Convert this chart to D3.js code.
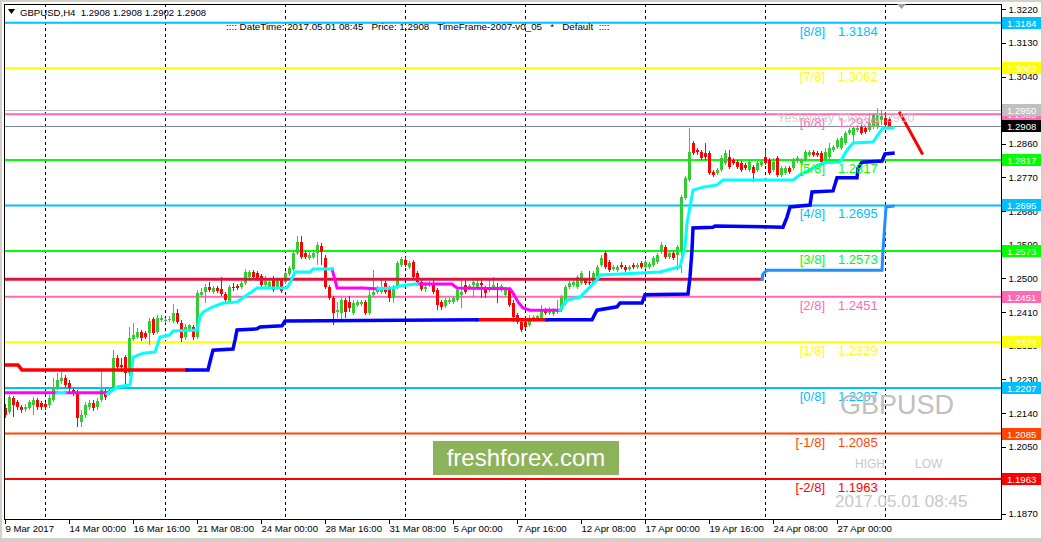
<!DOCTYPE html>
<html><head><meta charset="utf-8">
<script src="https://cdn.jsdelivr.net/npm/d3@7"></script>
<style>
body{margin:0;background:#fff;}
svg{display:block;}
text{font-family:"Liberation Sans",Arial,sans-serif;}
</style>
</head><body>
<svg id="c" width="1043" height="542"></svg>
<script>
const symbol = "GBPUSD";
const timeframe = "H4";
const xTickIndex = [0,16,32,48,64,80,96,112,128,144,160,176,192,208];
const xTickLabels = ["9 Mar 2017","14 Mar 00:00","16 Mar 16:00","21 Mar 08:00","24 Mar 00:00","28 Mar 16:00","31 Mar 08:00","5 Apr 00:00","7 Apr 16:00","12 Apr 08:00","17 Apr 00:00","19 Apr 16:00","24 Apr 08:00","27 Apr 00:00"];
const weekStartIndex = [10,40,70,100,130,160,190,220];
const priceTicks = [1.3220,1.3130,1.3040,1.2950,1.2860,1.2770,1.2680,1.2590,1.2500,1.2410,1.2320,1.2230,1.2140,1.2050,1.1960,1.1870];

// OHLC, one entry per H4 bar
const ohlc = [
[1.2153,1.2164,1.2127,1.2135],[1.2143,1.2188,1.2137,1.2183],[1.2180,1.2185,1.2129,1.2161],[1.2169,1.2175,1.2148,1.2156],
[1.2156,1.2161,1.2140,1.2148],[1.2151,1.2164,1.2143,1.2156],[1.2153,1.2175,1.2148,1.2169],[1.2161,1.2183,1.2135,1.2175],
[1.2175,1.2180,1.2148,1.2156],[1.2167,1.2172,1.2148,1.2156],[1.2164,1.2169,1.2148,1.2156],[1.2161,1.2188,1.2153,1.2180],
[1.2175,1.2233,1.2169,1.2210],[1.2210,1.2247,1.2201,1.2228],[1.2226,1.2250,1.2218,1.2233],[1.2233,1.2242,1.2207,1.2215],
[1.2220,1.2228,1.2196,1.2207],[1.2201,1.2207,1.2185,1.2194],[1.2194,1.2201,1.2103,1.2127],[1.2116,1.2148,1.2103,1.2135],
[1.2135,1.2169,1.2127,1.2161],[1.2156,1.2175,1.2148,1.2167],[1.2167,1.2175,1.2145,1.2153],[1.2156,1.2180,1.2148,1.2172],
[1.2175,1.2250,1.2169,1.2201],[1.2199,1.2204,1.2175,1.2183],[1.2194,1.2207,1.2188,1.2201],[1.2210,1.2308,1.2201,1.2287],
[1.2287,1.2295,1.2255,1.2263],[1.2268,1.2287,1.2250,1.2263],[1.2289,1.2295,1.2215,1.2247],[1.2247,1.2370,1.2239,1.2341],
[1.2338,1.2381,1.2333,1.2349],[1.2343,1.2367,1.2338,1.2357],[1.2357,1.2362,1.2333,1.2341],[1.2354,1.2359,1.2338,1.2343],
[1.2354,1.2394,1.2322,1.2386],[1.2392,1.2397,1.2349,1.2354],[1.2357,1.2402,1.2351,1.2394],[1.2389,1.2402,1.2383,1.2394],
[1.2386,1.2394,1.2381,1.2389],[1.2389,1.2400,1.2383,1.2392],[1.2386,1.2432,1.2381,1.2407],[1.2407,1.2418,1.2378,1.2383],
[1.2381,1.2389,1.2330,1.2341],[1.2343,1.2378,1.2335,1.2370],[1.2362,1.2378,1.2357,1.2375],[1.2370,1.2375,1.2335,1.2343],
[1.2343,1.2469,1.2338,1.2461],[1.2456,1.2474,1.2450,1.2464],[1.2464,1.2485,1.2434,1.2477],[1.2477,1.2490,1.2464,1.2469],
[1.2464,1.2480,1.2458,1.2474],[1.2474,1.2480,1.2461,1.2466],[1.2472,1.2504,1.2453,1.2458],[1.2458,1.2464,1.2437,1.2442],
[1.2437,1.2482,1.2432,1.2477],[1.2477,1.2488,1.2466,1.2474],[1.2480,1.2485,1.2469,1.2474],[1.2477,1.2493,1.2472,1.2488],
[1.2488,1.2525,1.2482,1.2517],[1.2504,1.2522,1.2498,1.2517],[1.2517,1.2522,1.2498,1.2504],[1.2514,1.2520,1.2493,1.2501],
[1.2506,1.2512,1.2477,1.2482],[1.2482,1.2506,1.2477,1.2493],[1.2477,1.2498,1.2472,1.2490],[1.2498,1.2506,1.2464,1.2469],
[1.2477,1.2501,1.2472,1.2496],[1.2496,1.2501,1.2461,1.2466],[1.2490,1.2520,1.2485,1.2514],[1.2512,1.2533,1.2506,1.2528],
[1.2525,1.2573,1.2520,1.2568],[1.2568,1.2613,1.2563,1.2597],[1.2597,1.2613,1.2552,1.2557],[1.2568,1.2573,1.2552,1.2557],
[1.2555,1.2571,1.2549,1.2563],[1.2557,1.2576,1.2552,1.2568],[1.2568,1.2597,1.2536,1.2589],[1.2587,1.2595,1.2536,1.2571],
[1.2555,1.2563,1.2472,1.2477],[1.2477,1.2482,1.2442,1.2448],[1.2448,1.2453,1.2375,1.2407],[1.2410,1.2437,1.2394,1.2415],
[1.2407,1.2448,1.2383,1.2442],[1.2442,1.2448,1.2394,1.2410],[1.2437,1.2453,1.2410,1.2421],[1.2407,1.2442,1.2402,1.2434],
[1.2429,1.2442,1.2424,1.2437],[1.2432,1.2442,1.2426,1.2437],[1.2437,1.2442,1.2402,1.2407],[1.2407,1.2469,1.2402,1.2456],
[1.2456,1.2522,1.2450,1.2464],[1.2464,1.2480,1.2458,1.2474],[1.2464,1.2496,1.2458,1.2474],[1.2488,1.2493,1.2458,1.2464],
[1.2474,1.2480,1.2437,1.2448],[1.2448,1.2482,1.2434,1.2477],[1.2477,1.2547,1.2472,1.2541],[1.2536,1.2557,1.2531,1.2552],
[1.2549,1.2557,1.2531,1.2536],[1.2531,1.2547,1.2525,1.2541],[1.2544,1.2549,1.2498,1.2504],[1.2514,1.2520,1.2485,1.2490],
[1.2490,1.2496,1.2466,1.2472],[1.2472,1.2490,1.2464,1.2477],[1.2482,1.2493,1.2477,1.2488],[1.2488,1.2496,1.2458,1.2464],
[1.2469,1.2474,1.2415,1.2429],[1.2437,1.2442,1.2415,1.2424],[1.2426,1.2448,1.2421,1.2442],[1.2437,1.2448,1.2432,1.2442],
[1.2437,1.2453,1.2432,1.2448],[1.2442,1.2474,1.2437,1.2469],[1.2456,1.2496,1.2421,1.2464],[1.2482,1.2496,1.2458,1.2464],
[1.2474,1.2485,1.2469,1.2480],[1.2482,1.2496,1.2448,1.2490],[1.2477,1.2501,1.2472,1.2488],[1.2488,1.2496,1.2448,1.2482],
[1.2474,1.2480,1.2448,1.2461],[1.2469,1.2496,1.2464,1.2477],[1.2474,1.2504,1.2469,1.2482],[1.2477,1.2488,1.2434,1.2474],
[1.2469,1.2485,1.2464,1.2480],[1.2456,1.2477,1.2450,1.2469],[1.2469,1.2474,1.2424,1.2429],[1.2434,1.2442,1.2383,1.2397],
[1.2402,1.2407,1.2378,1.2383],[1.2383,1.2394,1.2357,1.2362],[1.2383,1.2389,1.2365,1.2370],[1.2375,1.2402,1.2370,1.2394],
[1.2389,1.2402,1.2383,1.2397],[1.2394,1.2402,1.2389,1.2400],[1.2394,1.2429,1.2389,1.2415],[1.2415,1.2421,1.2402,1.2407],
[1.2407,1.2424,1.2402,1.2415],[1.2405,1.2421,1.2400,1.2413],[1.2410,1.2442,1.2405,1.2415],[1.2415,1.2456,1.2410,1.2450],
[1.2434,1.2482,1.2429,1.2477],[1.2477,1.2493,1.2472,1.2488],[1.2482,1.2496,1.2477,1.2490],[1.2477,1.2509,1.2472,1.2504],
[1.2488,1.2520,1.2482,1.2514],[1.2496,1.2501,1.2482,1.2488],[1.2490,1.2520,1.2482,1.2488],[1.2488,1.2520,1.2482,1.2514],
[1.2504,1.2536,1.2498,1.2531],[1.2536,1.2563,1.2531,1.2555],[1.2568,1.2573,1.2525,1.2531],[1.2544,1.2549,1.2517,1.2522],
[1.2525,1.2536,1.2520,1.2531],[1.2522,1.2536,1.2517,1.2531],[1.2536,1.2544,1.2525,1.2531],[1.2531,1.2536,1.2517,1.2522],
[1.2525,1.2536,1.2520,1.2531],[1.2536,1.2541,1.2525,1.2531],[1.2531,1.2541,1.2525,1.2536],[1.2541,1.2547,1.2525,1.2531],
[1.2531,1.2549,1.2525,1.2544],[1.2531,1.2544,1.2525,1.2539],[1.2536,1.2560,1.2531,1.2555],[1.2544,1.2568,1.2539,1.2563],
[1.2571,1.2597,1.2565,1.2589],[1.2584,1.2589,1.2552,1.2557],[1.2557,1.2573,1.2552,1.2568],[1.2568,1.2573,1.2549,1.2555],
[1.2563,1.2589,1.2522,1.2584],[1.2576,1.2723,1.2514,1.2718],[1.2715,1.2774,1.2710,1.2769],[1.2763,1.2902,1.2758,1.2838],
[1.2862,1.2868,1.2830,1.2835],[1.2843,1.2849,1.2830,1.2838],[1.2838,1.2843,1.2817,1.2822],[1.2835,1.2862,1.2817,1.2825],
[1.2835,1.2841,1.2777,1.2782],[1.2785,1.2790,1.2771,1.2777],[1.2782,1.2795,1.2777,1.2790],[1.2790,1.2830,1.2785,1.2822],
[1.2809,1.2843,1.2803,1.2835],[1.2825,1.2843,1.2793,1.2798],[1.2817,1.2822,1.2803,1.2809],[1.2811,1.2817,1.2793,1.2798],
[1.2809,1.2814,1.2785,1.2790],[1.2803,1.2809,1.2790,1.2795],[1.2790,1.2817,1.2785,1.2811],[1.2798,1.2803,1.2758,1.2782],
[1.2790,1.2814,1.2785,1.2809],[1.2803,1.2817,1.2798,1.2811],[1.2825,1.2843,1.2803,1.2809],[1.2817,1.2822,1.2777,1.2782],
[1.2790,1.2822,1.2785,1.2811],[1.2822,1.2827,1.2771,1.2777],[1.2777,1.2801,1.2771,1.2795],[1.2782,1.2801,1.2777,1.2795],
[1.2795,1.2801,1.2779,1.2785],[1.2795,1.2822,1.2790,1.2817],[1.2814,1.2827,1.2809,1.2822],[1.2809,1.2822,1.2803,1.2817],
[1.2817,1.2843,1.2811,1.2838],[1.2830,1.2843,1.2825,1.2838],[1.2838,1.2843,1.2825,1.2830],[1.2835,1.2841,1.2825,1.2830],
[1.2835,1.2841,1.2806,1.2811],[1.2817,1.2849,1.2811,1.2838],[1.2825,1.2862,1.2819,1.2849],[1.2843,1.2857,1.2838,1.2852],
[1.2852,1.2876,1.2846,1.2870],[1.2849,1.2881,1.2843,1.2876],[1.2862,1.2894,1.2857,1.2889],[1.2889,1.2902,1.2884,1.2897],
[1.2884,1.2908,1.2862,1.2902],[1.2897,1.2908,1.2892,1.2902],[1.2905,1.2910,1.2884,1.2889],[1.2902,1.2908,1.2886,1.2892],
[1.2897,1.2942,1.2892,1.2916],[1.2905,1.2942,1.2900,1.2937],[1.2905,1.2956,1.2900,1.2942],[1.2924,1.2950,1.2910,1.2934],
[1.2929,1.2945,1.2905,1.2910],[1.2926,1.2932,1.2900,1.2905],[1.2908,1.2908,1.2902,1.2908]
];

// Murrey math levels
const levelNames = ["[8/8]","[7/8]","[6/8]","[5/8]","[4/8]","[3/8]","[2/8]","[1/8]","[0/8]","[-1/8]","[-2/8]"];
const levelValues = [1.3184,1.3062,1.2939,1.2817,1.2695,1.2573,1.2451,1.2329,1.2207,1.2085,1.1963];
const levelColors = ["#00bfff","#ffff00","#ff69b4","#00ff00","#00bfff","#00ff00","#ff69b4","#ffff00","#00bfff","#ff4500","#ff0000"];
const yesterdayClose = 1.2950;
const currentPrice = 1.2908;
const dateTimeText = "2017.05.01 08:45";

// trailing line, vertices [bar index, price]
const trailMagenta1 = [[0,1.2194],[13,1.2194]];
const trailCyan1 = [[13,1.2194],[15,1.2194]];
const trailMagenta2 = [[15,1.2194],[25.5,1.2194]];
const trailCyan2 = [[25.5,1.2191],[28.25,1.2210],[31.25,1.2215],[31.75,1.2255],[32,1.2289],[34.5,1.2300],[37.5,1.2303],[38.25,1.2327],[38.75,1.2343],[41.25,1.2349],[42,1.2359],[48,1.2362],[48.75,1.2397],[49.5,1.2410],[52,1.2424],[54.5,1.2434],[58,1.2437],[59.5,1.2448],[61.25,1.2461],[63,1.2474],[70.5,1.2474],[71.25,1.2488],[72.5,1.2517],[76.25,1.2517],[77,1.2525],[81.75,1.2525]];
const trailMagenta3 = [[81.75,1.2525],[82.5,1.2496],[83,1.2474],[89.5,1.2474],[93.25,1.2472]];
const trailCyan3 = [[93.25,1.2472],[97,1.2474],[98.75,1.2480],[100.5,1.2482],[103,1.2485]];
const trailMagenta4 = [[103,1.2485],[111.75,1.2485],[113,1.2474],[126.25,1.2472],[127,1.2461],[128.25,1.2437],[129.5,1.2421],[131.25,1.2415],[138.75,1.2415]];
const trailCyan4 = [[138.75,1.2415],[140.5,1.2442],[143.75,1.2450],[148,1.2496],[148.75,1.2509],[153.75,1.2512],[163.75,1.2517],[168.75,1.2531],[170,1.2584],[170.5,1.2648],[172,1.2736],[174.5,1.2744],[178,1.2750],[179.5,1.2763],[197,1.2763],[198.75,1.2777],[204.5,1.2809],[208.75,1.2811],[210.5,1.2843],[212,1.2862],[217,1.2865],[218.75,1.2892],[219.5,1.2902],[222,1.2902]];

// stepped support line
const stopRed1 = [[0,1.2268],[3.25,1.2268],[4.25,1.2255],[45.5,1.2255]];
const stopBlue1 = [[45.5,1.2255],[50.75,1.2255],[51.25,1.2277],[52,1.2308],[57,1.2311],[57.5,1.2335],[58,1.2362],[63,1.2365],[63.75,1.2370],[69.25,1.2373],[70,1.2386],[118,1.2389]];
const stopRed2 = [[118,1.2389],[135.5,1.2389]];
const stopBlue2 = [[135.5,1.2389],[146.75,1.2389],[148,1.2415],[153,1.2424],[153.75,1.2434],[159.25,1.2434],[160,1.2456],[170.75,1.2458],[171.25,1.2504],[171.75,1.2576],[172,1.2635],[177,1.2637],[177.5,1.2640],[194.5,1.2637],[195.5,1.2664],[196.25,1.2691],[201.25,1.2696],[201.75,1.2731],[207,1.2734],[208,1.2769],[213,1.2769],[213.25,1.2795],[214.25,1.2811],[219.25,1.2814],[220,1.2833],[222,1.2835]];

// second stepped line
const levelLineCrimson = [[0,1.2498],[189.25,1.2498]];
const stepDodger = [[189.25,1.2498],[189.5,1.2512],[190.5,1.2522],[219.25,1.2522],[219.5,1.2576],[220.25,1.2691],[222,1.2693]];
const forecastLine = [[223.75,1.2942],[229.25,1.2835]];

const svg = d3.select("#c");
const W = 1043, H = 542;
const L = 4, T = 4, R = 1001, B = 519;
const smallFont = 9.6;

const x = d3.scaleLinear().domain([0, 249]).range([5, 1001]);
const y = d3.scaleLinear().domain([1.32367, 1.18563]).range([3, 519]);

// window frame
svg.append("rect").attr("x",0).attr("y",0).attr("width",W).attr("height",H).attr("fill","#d4d0c8");
svg.append("rect").attr("x",2).attr("y",2).attr("width",W-4).attr("height",H-6).attr("fill","#ffffff");

svg.append("defs").append("clipPath").attr("id","plot").append("rect")
  .attr("x",L).attr("y",T).attr("width",R-L).attr("height",B-T);
const g = svg.append("g").attr("clip-path","url(#plot)");

// week separators
g.selectAll("line.sep").data(weekStartIndex).enter().append("line")
  .attr("x1",d=>Math.round(x(d))+0.5).attr("x2",d=>Math.round(x(d))+0.5)
  .attr("y1",T).attr("y2",B).attr("stroke","#000").attr("stroke-width",1)
  .attr("stroke-dasharray","3,3").attr("shape-rendering","crispEdges");

// level lines
g.selectAll("line.lvl").data(levelValues).enter().append("line")
  .attr("x1",L).attr("x2",R).attr("y1",d=>y(d)).attr("y2",d=>y(d))
  .attr("stroke",(d,i)=>levelColors[i]).attr("stroke-width",2);

g.append("line").attr("x1",L).attr("x2",R).attr("y1",Math.round(y(yesterdayClose))+0.5).attr("y2",Math.round(y(yesterdayClose))+0.5)
  .attr("stroke","#c0c0c0").attr("stroke-width",1).attr("shape-rendering","crispEdges");
g.append("line").attr("x1",L).attr("x2",R).attr("y1",Math.round(y(currentPrice))+0.5).attr("y2",Math.round(y(currentPrice))+0.5)
  .attr("stroke","#778899").attr("stroke-width",1).attr("shape-rendering","crispEdges");

// candles
const up = "#32cd32", dn = "#ff0000";
const cg = g.append("g").attr("shape-rendering","crispEdges");
ohlc.forEach((d,i)=>{
  const cx = Math.round(x(i));
  const col = d[3] >= d[0] ? up : dn;
  cg.append("rect").attr("x",cx).attr("width",1)
    .attr("y",Math.round(y(d[1]))).attr("height",Math.max(1,Math.round(y(d[2]))-Math.round(y(d[1]))))
    .attr("fill",col);
  const top = Math.round(y(Math.max(d[0],d[3]))), bot = Math.round(y(Math.min(d[0],d[3])));
  cg.append("rect").attr("x",cx-1).attr("width",3).attr("y",top).attr("height",Math.max(1,bot-top)).attr("fill",col);
});

// indicator lines
const ln = d3.line().x(d=>x(d[0])).y(d=>y(d[1]));
function drawLine(pts,color,w){
  g.append("path").attr("d",ln(pts)).attr("fill","none").attr("stroke",color).attr("stroke-width",w)
   .attr("stroke-linejoin","miter").attr("stroke-linecap","square");
}
drawLine(levelLineCrimson,"#dc143c",3);
drawLine(stepDodger,"#1e90ff",3);
[trailMagenta1,trailMagenta2,trailMagenta3,trailMagenta4].forEach(p=>drawLine(p,"#ff00ff",3));
[trailCyan1,trailCyan2,trailCyan3,trailCyan4].forEach(p=>drawLine(p,"#00ffff",3));
[stopRed1,stopRed2].forEach(p=>drawLine(p,"#ff0000",3.5));
[stopBlue1,stopBlue2].forEach(p=>drawLine(p,"#0000ff",3.5));
drawLine(forecastLine,"#ff0000",3);

// level labels
const lt = svg.append("g");
levelValues.forEach((v,i)=>{
  const yy = y(v);
  lt.append("text").attr("x",825).attr("y",yy+13).attr("text-anchor","end")
    .attr("font-size",13).attr("fill",levelColors[i]).text(levelNames[i]);
  lt.append("text").attr("x",838).attr("y",yy+13)
    .attr("font-size",13).attr("fill",levelColors[i]).text(v.toFixed(4));
});
lt.append("text").attr("x",777).attr("y",y(yesterdayClose)+12).attr("font-size",13)
  .attr("fill","#c8c8c8").attr("fill-opacity",0.9).text("Yesterday Close "+yesterdayClose.toFixed(4));

// watermark texts
svg.append("text").attr("x",840).attr("y",414).attr("font-size",27).attr("fill","#c0c0c0").text(symbol);
svg.append("text").attr("x",855).attr("y",468).attr("font-size",12).attr("fill","#c8c8c8").text("HIGH");
svg.append("text").attr("x",915).attr("y",468).attr("font-size",12).attr("fill","#c8c8c8").text("LOW");
svg.append("text").attr("x",835).attr("y",507).attr("font-size",17).attr("fill","#c8c8c8").text(dateTimeText);

svg.append("rect").attr("x",433).attr("y",441).attr("width",186).attr("height",34).attr("fill","#8cb35a");
svg.append("text").attr("x",526).attr("y",466).attr("text-anchor","middle").attr("font-size",24)
  .attr("fill","#ffffff").text("freshforex.com");

// frame
svg.append("rect").attr("x",L+0.5).attr("y",T+0.5).attr("width",R-L).attr("height",B-T)
  .attr("fill","none").attr("stroke","#000").attr("stroke-width",1).attr("shape-rendering","crispEdges");

// right price axis
const ya = svg.append("g").attr("transform",`translate(${R+0.5},0)`)
  .call(d3.axisRight(y).tickValues(priceTicks).tickSize(4).tickPadding(3).tickFormat(d3.format(".4f")));
ya.select(".domain").remove();
ya.selectAll("text").attr("font-size",smallFont).attr("font-family","Liberation Sans, Arial, sans-serif").attr("fill","#000");
ya.selectAll("line").attr("stroke","#000").attr("shape-rendering","crispEdges");

// price boxes
const boxes = [];
levelValues.forEach((v,i)=>{ if(i!==2) boxes.push([v,levelColors[i],"#fff"]); });
boxes.splice(2,0,[levelValues[2],levelColors[2],"#fff"],[yesterdayClose,"#c0c0c0","#fff"],[currentPrice,"#000000","#fff"]);
const pb = svg.append("g");
boxes.forEach(b=>{
  const yy = Math.round(y(b[0]));
  pb.append("rect").attr("x",R+1).attr("y",yy-6).attr("width",39).attr("height",12).attr("fill",b[1]);
  pb.append("text").attr("x",R+6).attr("y",yy+4).attr("font-size",smallFont).attr("fill",b[2]).text(b[0].toFixed(4));
});

// bottom time axis
const xa = svg.append("g").attr("transform",`translate(0,${B+0.5})`)
  .call(d3.axisBottom(x).tickValues(xTickIndex).tickSize(4).tickPadding(2).tickFormat((d,i)=>xTickLabels[i]));
xa.select(".domain").remove();
xa.selectAll("text").attr("text-anchor","start").attr("dx",0).attr("font-size",smallFont)
  .attr("font-family","Liberation Sans, Arial, sans-serif").attr("fill","#000");
xa.selectAll("line").attr("stroke","#000").attr("shape-rendering","crispEdges");

// header
const last = ohlc[ohlc.length-1];
svg.append("path").attr("d","M8,9 L15,9 L11.5,14 Z").attr("fill","#000");
svg.append("text").attr("x",20).attr("y",16).attr("font-size",smallFont).attr("fill","#000").attr("xml:space","preserve")
  .text(`${symbol},${timeframe}  ${last.map(v=>v.toFixed(4)).join(" ")}`);
svg.append("text").attr("x",226).attr("y",30).attr("font-size",9.8).attr("fill","#000").attr("xml:space","preserve")
  .text(`:::: DateTime: ${dateTimeText}   Price: ${currentPrice.toFixed(4)}   TimeFrame-2007-v0_05   *   Default  ::::`);
svg.append("path").attr("d","M897,4 L906,4 L901.5,9 Z").attr("fill","#a0a0a0");
</script>
</body></html>
